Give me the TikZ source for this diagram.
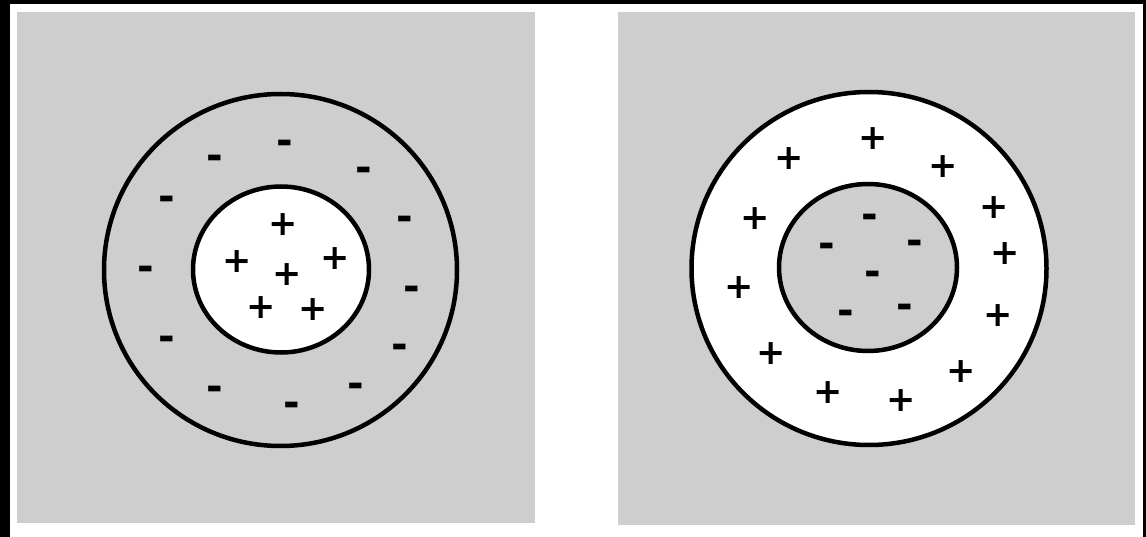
\documentclass[tikz,border=0pt]{standalone}
\usepackage{fontspec}
\newfontfamily\signfont{DejaVu Sans}
\definecolor{paper}{RGB}{206,206,206}
\tikzset{
  ring/.style={line width=4.5pt},
  plussign/.style={inner sep=0pt, font=\signfont\bfseries\fontsize{35}{35}\selectfont},
  minussign/.style={inner sep=0pt, yshift=-4.5pt, font=\signfont\bfseries\fontsize{40}{40}\selectfont},
}
\begin{document}
\begin{tikzpicture}[x=1pt, y=-1pt]
    \useasboundingbox (0,0) rectangle (1146,537);
    % scan frame
    \fill[white] (0,0) rectangle (1146,537);
    \fill[black] (0,0) rectangle (1146,4);
    \fill[black] (0,0) rectangle (10,537);
    \fill[black] (1143,0) rectangle (1146,537);
    % left panel: positive core, negative shell
    \fill[paper] (17,12) rectangle (535,523);
    \fill[white] (281,269.5) ellipse [x radius=88, y radius=83];
    \draw[ring] (281,269.5) ellipse [x radius=88, y radius=83];
    \draw[ring] (280.5,270) ellipse [x radius=176.5, y radius=176];
    \foreach \x/\y [count=\i] in {283/225, 237/262, 335/259, 287/275, 261/308, 313/310}
        \node[plussign] (lp\i) at (\x,\y) {+};
    \foreach \x/\y [count=\i] in {285/143, 215/158, 364/170, 167/199, 405/219, 146/269,
                                  412/289, 167/339, 400/347, 215/389, 356/386, 292/405}
        \node[minussign] (lm\i) at (\x,\y) {-};
    % right panel: negative core, positive shell
    \fill[paper] (618,12) rectangle (1135,525);
    \fill[white] (869,268.5) ellipse [x radius=177.5, y radius=176.5];
    \fill[paper] (868,267.5) ellipse [x radius=89, y radius=83.5];
    \draw[ring] (869,268.5) ellipse [x radius=177.5, y radius=176.5];
    \draw[ring] (868,267.5) ellipse [x radius=89, y radius=83.5];
    \foreach \x/\y [count=\i] in {873/139, 789/159, 943/167, 755/219, 994/208, 1005/254,
                                  739/288, 998/316, 771/354, 961/372, 828/393, 901/401}
        \node[plussign] (rp\i) at (\x,\y) {+};
    \foreach \x/\y [count=\i] in {870/217, 827/246, 915/243, 873/274, 846/313, 905/307}
        \node[minussign] (rm\i) at (\x,\y) {-};
\end{tikzpicture}
\end{document}
